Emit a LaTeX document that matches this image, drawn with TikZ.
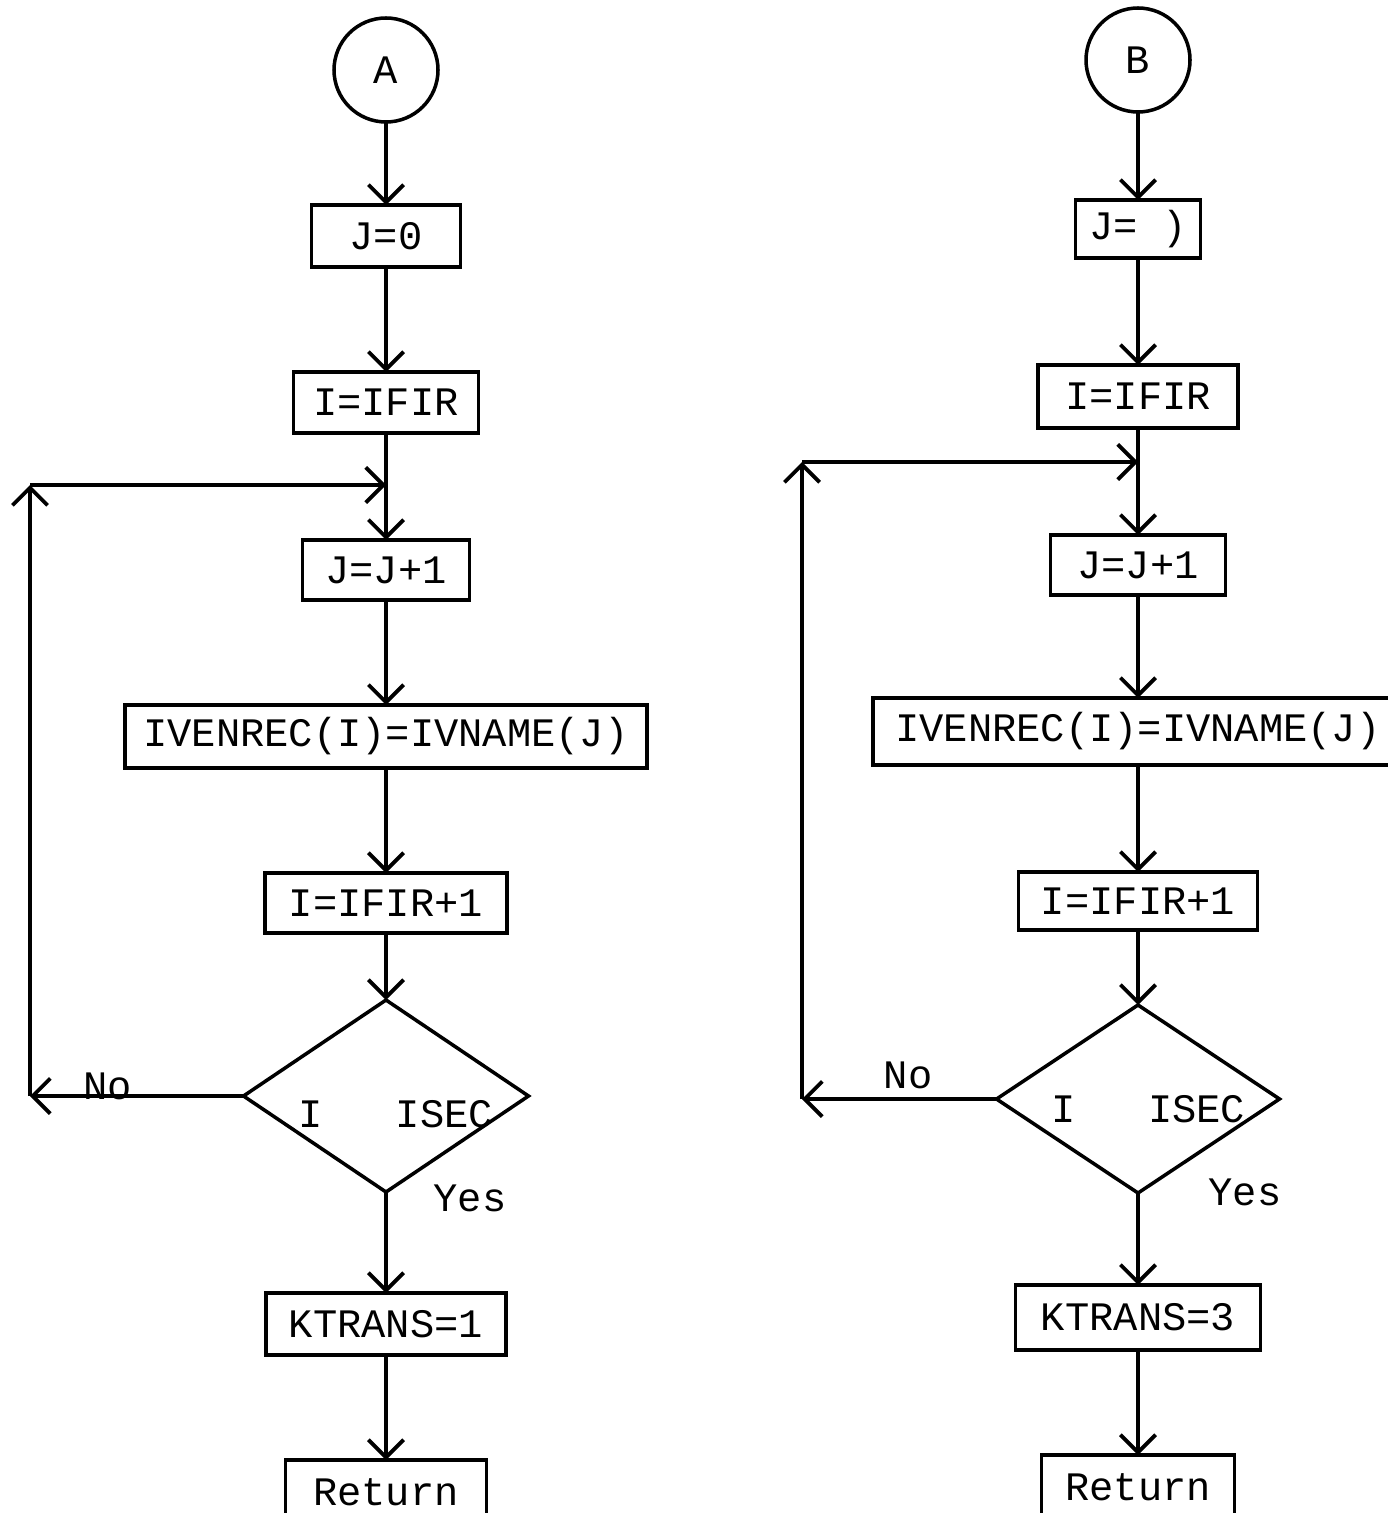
\documentclass[tikz,border=0pt]{standalone}
\usepackage{fontspec}
\setmonofont{Liberation Mono}
\usetikzlibrary{arrows.meta,positioning,shapes.geometric}
\tikzset{
  flowbox/.style={
    draw, line width=1.1pt, font=\ttfamily\fontsize{11.5}{14}\selectfont,
    inner sep=2pt, outer sep=0pt, minimum height=0.61cm,
  },
  arrow/.style={-{Straight Barb[length=5pt,width=10pt]}, line width=1.1pt},
  lbl/.style={font=\ttfamily\fontsize{11.5}{14}\selectfont},
}

\begin{document}
\begin{tikzpicture}[
  flowconn/.style={draw, circle, line width=1pt, outer sep=0pt, minimum size=1.04cm, font=\ttfamily\fontsize{11.5}{14}\selectfont},
  flowdec/.style={draw, diamond, line width=1pt, outer sep=0pt, inner sep=0pt},
]
  \useasboundingbox (0,0) rectangle (13.87,-15.13);

  % left chart
  \node[flowconn] (circA) at (3.86,-0.70) {A};
  \node[flowbox, below=0.83cm of circA, minimum width=1.49cm, minimum height=0.62cm] (jA0) {J=0};
  \node[flowbox, below=1.05cm of jA0, minimum width=1.85cm] (ifirA) {I=IFIR};
  \node[flowbox, below=1.07cm of ifirA, minimum width=1.67cm, minimum height=0.60cm] (jjA) {J=J+1};
  \node[flowbox, below=1.05cm of jjA, minimum width=5.22cm, minimum height=0.63cm] (ivenA) {IVENREC(I)=IVNAME(J)};
  \node[flowbox, below=1.05cm of ivenA, minimum width=2.42cm, minimum height=0.60cm] (ifir1A) {I=IFIR+1};
  \node[flowdec, below=0.67cm of ifir1A, minimum width=2.85cm, minimum height=1.92cm,
    label={[lbl,xshift=0.1cm,yshift=-0.18cm]center:I\ \ \ ISEC}] (decA) {};
  \node[flowbox, below=1.01cm of decA, minimum width=2.40cm, minimum height=0.62cm] (ktA) {KTRANS=1};
  \node[flowbox, below=1.05cm of ktA, minimum width=2.01cm, minimum height=0.64cm] (retA) {Return};

  \coordinate (joinA) at ([yshift=-0.52cm]ifirA.south);
  \coordinate (noA) at (0.30,0 |- decA.west);
  \coordinate (backA) at (0.30,0 |- joinA);
  \node[lbl] (noAlbl) at (1.08,-10.86) {No};
  \node[lbl] (yesAlbl) at (4.70,-11.98) {Yes};

  \draw[arrow] (circA) -- (jA0);
  \draw[arrow] (jA0) -- (ifirA);
  \draw[arrow] (ifirA) -- (jjA);
  \draw[arrow] (jjA) -- (ivenA);
  \draw[arrow] (ivenA) -- (ifir1A);
  \draw[arrow] (ifir1A) -- (decA);
  \draw[arrow] (decA) -- (ktA);
  \draw[arrow] (ktA) -- (retA);
  \draw[arrow] (decA.west) -- (noA);
  \draw[arrow] (noA) -- (backA);
  \draw[arrow] (backA) -- (joinA);

  % right chart
  \node[flowconn] (circB) at (11.38,-0.60) {B};
  \node[flowbox, below=0.88cm of circB, minimum width=1.25cm, minimum height=0.58cm] (jB0) {J= )};
  \node[flowbox, below=1.07cm of jB0, minimum width=2.00cm, minimum height=0.63cm] (ifirB) {I=IFIR};
  \node[flowbox, below=1.07cm of ifirB, minimum width=1.75cm, minimum height=0.60cm] (jjB) {J=J+1};
  \node[flowbox, below=1.03cm of jjB, minimum width=5.30cm, minimum height=0.67cm] (ivenB) {IVENREC(I)=IVNAME(J)};
  \node[flowbox, below=1.07cm of ivenB, minimum width=2.39cm, minimum height=0.58cm] (ifir1B) {I=IFIR+1};
  \node[flowdec, below=0.75cm of ifir1B, minimum width=2.83cm, minimum height=1.88cm,
    label={[lbl,xshift=0.1cm,yshift=-0.10cm]center:I\ \ \ ISEC}] (decB) {};
  \node[flowbox, below=0.92cm of decB, minimum width=2.45cm, minimum height=0.65cm] (ktB) {KTRANS=3};
  \node[flowbox, below=1.05cm of ktB, minimum width=1.93cm, minimum height=0.64cm] (retB) {Return};

  \coordinate (joinB) at ([yshift=-0.34cm]ifirB.south);
  \coordinate (noB) at (8.02,0 |- decB.west);
  \coordinate (backB) at (8.02,0 |- joinB);
  \node[lbl] (noBlbl) at (9.08,-10.75) {No};
  \node[lbl] (yesBlbl) at (12.45,-11.92) {Yes};

  \draw[arrow] (circB) -- (jB0);
  \draw[arrow] (jB0) -- (ifirB);
  \draw[arrow] (ifirB) -- (jjB);
  \draw[arrow] (jjB) -- (ivenB);
  \draw[arrow] (ivenB) -- (ifir1B);
  \draw[arrow] (ifir1B) -- (decB);
  \draw[arrow] (decB) -- (ktB);
  \draw[arrow] (ktB) -- (retB);
  \draw[arrow] (decB.west) -- (noB);
  \draw[arrow] (noB) -- (backB);
  \draw[arrow] (backB) -- (joinB);
\end{tikzpicture}
\end{document}
